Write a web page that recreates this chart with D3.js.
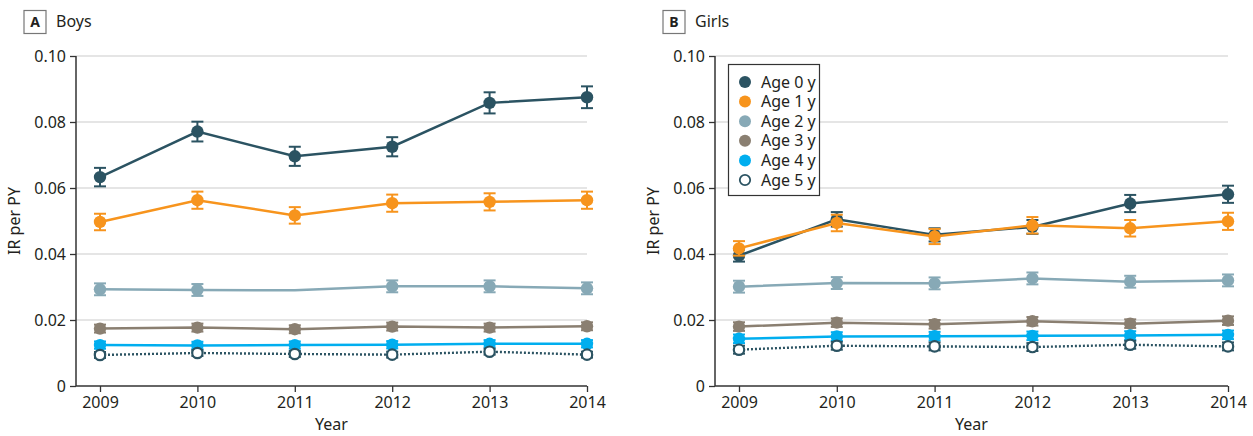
<!DOCTYPE html>
<html><head><meta charset="utf-8">
<script src="https://cdn.jsdelivr.net/npm/d3@7"></script>
<style>
body{margin:0;background:#fff;}
svg text{font-family:"Noto Sans",sans-serif;fill:#231f20;}
</style></head><body>
<svg id="c" width="1253" height="436"></svg>
<script>
const years = [2009, 2010, 2011, 2012, 2013, 2014];
const ageLabels = ["Age 0 y","Age 1 y","Age 2 y","Age 3 y","Age 4 y","Age 5 y"];
const colors = ["#2b5362","#f7941d","#87a9b6","#8a7f71","#00aeef","#2b5362"];
const yTicks = [0, 0.02, 0.04, 0.06, 0.08, 0.10];

// Boys IR per PY (rows: ages 0-5)
const boysAge0 = [0.0633, 0.0771, 0.0696, 0.0725, 0.0858, 0.0875];
const boysAge1 = [0.0497, 0.0563, 0.0517, 0.0554, 0.0558, 0.0563];
const boysAge2 = [0.0293, 0.0291, 0.0290, 0.0302, 0.0302, 0.0296];
const boysAge3 = [0.0174, 0.0177, 0.0172, 0.0180, 0.0177, 0.0181];
const boysAge4 = [0.0124, 0.0123, 0.0124, 0.0125, 0.0128, 0.0128];
const boysAge5 = [0.0094, 0.0100, 0.0097, 0.0095, 0.0104, 0.0095];
const boysErr0 = [0.0028, 0.0030, 0.0029, 0.0029, 0.0032, 0.0033];
const boysErr1 = [0.0025, 0.0026, 0.0025, 0.0026, 0.0026, 0.0026];
const boysErr2 = [0.0018, 0.0018, 0, 0.0018, 0.0018, 0.0018];
const boysErr3 = [0.0012, 0.0012, 0.0012, 0.0012, 0.0012, 0.0012];
const boysErr4 = [0.0011, 0.0011, 0.0011, 0.0011, 0.0011, 0.0011];
const boysErr5 = [0.0009, 0.0009, 0.0009, 0.0009, 0.0009, 0.0009];
const boysMarker2 = [true, true, false, true, true, true];

// Girls IR per PY
const girlsAge0 = [0.0395, 0.0505, 0.0458, 0.0482, 0.0553, 0.0581];
const girlsAge1 = [0.0417, 0.0494, 0.0453, 0.0487, 0.0478, 0.0499];
const girlsAge2 = [0.0301, 0.0312, 0.0311, 0.0326, 0.0316, 0.0320];
const girlsAge3 = [0.0180, 0.0192, 0.0187, 0.0196, 0.0189, 0.0198];
const girlsAge4 = [0.0143, 0.0150, 0.0151, 0.0152, 0.0153, 0.0155];
const girlsAge5 = [0.0110, 0.0122, 0.0120, 0.0118, 0.0125, 0.0120];
const girlsErr0 = [0.0018, 0.0022, 0.0020, 0.0021, 0.0026, 0.0026];
const girlsErr1 = [0.0022, 0.0025, 0.0023, 0.0025, 0.0025, 0.0026];
const girlsErr2 = [0.0018, 0.0018, 0.0018, 0.0018, 0.0018, 0.0018];
const girlsErr3 = [0.0013, 0.0013, 0.0013, 0.0013, 0.0013, 0.0013];
const girlsErr4 = [0.0013, 0.0013, 0.0013, 0.0013, 0.0013, 0.0013];
const girlsErr5 = [0.0012, 0.0012, 0.0012, 0.0012, 0.0012, 0.0012];

const panels = [
  {letter:"A", title:"Boys", x0:76, x1:587, vals:[boysAge0,boysAge1,boysAge2,boysAge3,boysAge4,boysAge5],
   errs:[boysErr0,boysErr1,boysErr2,boysErr3,boysErr4,boysErr5], markers:{2:boysMarker2}, legend:false},
  {letter:"B", title:"Girls", x0:715, x1:1228, vals:[girlsAge0,girlsAge1,girlsAge2,girlsAge3,girlsAge4,girlsAge5],
   errs:[girlsErr0,girlsErr1,girlsErr2,girlsErr3,girlsErr4,girlsErr5], markers:{}, legend:true}
];

const svg = d3.select("#c");
const yTop = 56, yBot = 386;

panels.forEach(p => {
  const g = svg.append("g");
  const xPad = 24;
  const x = d3.scaleLinear().domain([2009, 2014]).range([p.x0 + xPad, p.x1]);
  const y = d3.scaleLinear().domain([0, 0.10]).range([yBot, yTop]);

  // panel label
  g.append("rect").attr("x", p.x0 - 52).attr("y", 10.5).attr("width", 22).attr("height", 23)
    .attr("fill", "#fff").attr("stroke", "#777").attr("stroke-width", 1.2);
  g.append("text").attr("x", p.x0 - 41).attr("y", 27).attr("text-anchor", "middle")
    .attr("font-size", 14).attr("font-weight", "bold").text(p.letter);
  g.append("text").attr("x", p.x0 - 20).attr("y", 27).attr("font-size", 16).text(p.title);

  // grid
  g.selectAll(".grid").data(yTicks.filter(d => d > 0)).join("line")
    .attr("x1", p.x0).attr("x2", p.x1).attr("y1", d => y(d)).attr("y2", d => y(d))
    .attr("stroke", "#dcdcdc").attr("stroke-width", 1.5);

  // axes
  const yAxis = d3.axisLeft(y).tickValues(yTicks).tickSize(6).tickPadding(4)
    .tickFormat(d => d === 0 ? "0" : d3.format(".2f")(d));
  const ya = g.append("g").attr("transform", `translate(${p.x0},0)`).call(yAxis);
  const xAxis = d3.axisBottom(x).tickValues(years).tickSize(6).tickPadding(5).tickFormat(d3.format("d"));
  const xa = g.append("g").attr("transform", `translate(0,${yBot})`).call(xAxis);
  [ya, xa].forEach(a => {
    a.selectAll("path").remove();
    a.selectAll("line").attr("stroke", "#333").attr("stroke-width", 1.3);
    a.selectAll("text").attr("font-size", 16).attr("fill", "#231f20")
      .attr("font-family", "'Noto Sans',sans-serif");
  });
  g.append("line").attr("x1", p.x0).attr("x2", p.x0).attr("y1", yTop).attr("y2", yBot)
    .attr("stroke", "#333").attr("stroke-width", 1.5);
  g.append("line").attr("x1", p.x0).attr("x2", p.x1).attr("y1", yBot).attr("y2", yBot)
    .attr("stroke", "#333").attr("stroke-width", 1.5);

  // axis titles
  g.append("text").attr("transform", `translate(${p.x0 - 56},${(yTop + yBot) / 2}) rotate(-90)`)
    .attr("text-anchor", "middle").attr("font-size", 16).text("IR per PY");
  g.append("text").attr("x", (p.x0 + p.x1) / 2).attr("y", 430).attr("text-anchor", "middle")
    .attr("font-size", 16).text("Year");

  // series
  p.vals.forEach((vals, i) => {
    const col = colors[i];
    const data = years.map((yr, j) => ({yr, v: vals[j], e: p.errs[i][j], m: p.markers[i] ? p.markers[i][j] : true}));
    const sg = g.append("g");
    sg.append("path").datum(data)
      .attr("d", d3.line().x(d => x(d.yr)).y(d => y(d.v)))
      .attr("fill", "none").attr("stroke", col).attr("stroke-width", i === 5 ? 2.4 : 2.5)
      .attr("stroke-dasharray", i === 5 ? "2,2" : null);
    const md = data.filter(d => d.m);
    const eb = sg.selectAll(".eb").data(md).join("g");
    eb.append("line").attr("x1", d => x(d.yr)).attr("x2", d => x(d.yr))
      .attr("y1", d => y(d.v - d.e)).attr("y2", d => y(d.v + d.e)).attr("stroke", col).attr("stroke-width", 2);
    [-1, 1].forEach(s => {
      eb.append("line").attr("x1", d => x(d.yr) - 6).attr("x2", d => x(d.yr) + 6)
        .attr("y1", d => y(d.v + s * d.e)).attr("y2", d => y(d.v + s * d.e))
        .attr("stroke", col).attr("stroke-width", 2);
    });
    sg.selectAll("circle").data(md).join("circle")
      .attr("cx", d => x(d.yr)).attr("cy", d => y(d.v))
      .attr("r", i === 5 ? 5.2 : 6.2)
      .attr("fill", i === 5 ? "#fff" : col)
      .attr("stroke", i === 5 ? col : "none").attr("stroke-width", 2.2);
  });

  if (p.legend) {
    const lg = g.append("g");
    lg.append("rect").attr("x", 728.5).attr("y", 64.5).attr("width", 91).attr("height", 131)
      .attr("fill", "#fff").attr("stroke", "#333").attr("stroke-width", 1.2);
    ageLabels.forEach((lab, i) => {
      const cy = 82 + i * 19.6;
      lg.append("circle").attr("cx", 745).attr("cy", cy).attr("r", i === 5 ? 5.2 : 6)
        .attr("fill", i === 5 ? "#fff" : colors[i]).attr("stroke", i === 5 ? colors[i] : "none").attr("stroke-width", 1.8);
      lg.append("text").attr("x", 761).attr("y", cy + 5.5).attr("font-size", 16).text(lab);
    });
  }
});
</script>
</body></html>
